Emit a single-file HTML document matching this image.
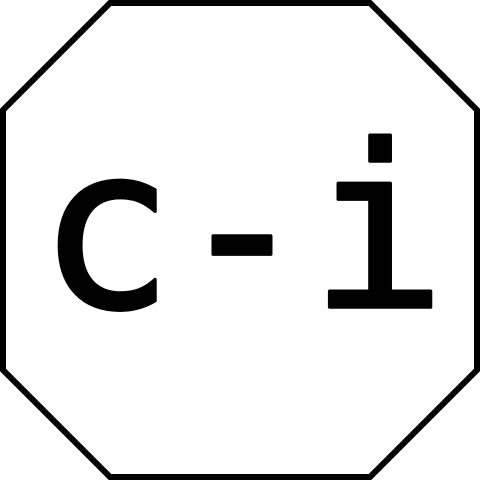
<!DOCTYPE html>
<html>
<head>
<style>
html,body{margin:0;padding:0;background:#fff;}
svg{display:block;}
</style>
</head>
<body>
<svg width="480" height="480" viewBox="0 0 480 480">
  <polygon
    points="110,3 370,3 477,110 477,370 370,477 110,477 3,370 3,110"
    fill="#fff" stroke="#000" stroke-width="6"/>
  <text x="242" y="307" text-anchor="middle"
    font-family="'DejaVu Sans Mono','Liberation Mono',monospace" font-size="226" stroke="#000" stroke-width="3.5" stroke-linejoin="round" fill="#000">c-i</text>
</svg>
</body>
</html>
